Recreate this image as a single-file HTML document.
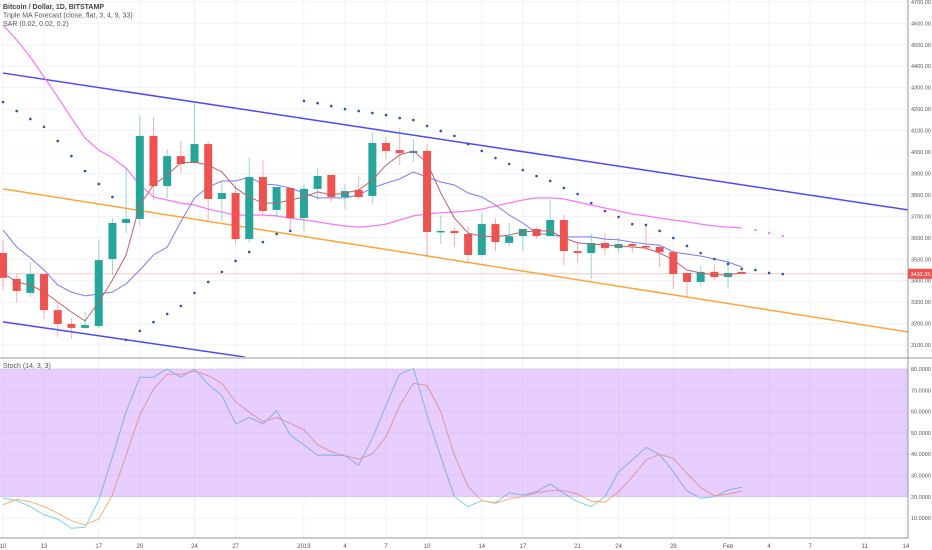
<!DOCTYPE html>
<html><head><meta charset="utf-8">
<style>
html,body{margin:0;padding:0;background:#fff;}
svg{display:block;font-family:"Liberation Sans",sans-serif;}
</style></head>
<body>
<svg id="chart" width="932" height="550" viewBox="0 0 932 550">
<defs>
<clipPath id="pc"><rect x="0" y="0" width="908" height="357"/></clipPath>
<clipPath id="sc"><rect x="0" y="359" width="908" height="179"/></clipPath>
</defs>
<g id="grid"></g>
<g id="price" clip-path="url(#pc)"></g>
<g id="stoch" clip-path="url(#sc)"></g>
<g id="axes"></g>
<text x="3" y="9" font-size="7" fill="#444" font-weight="bold">Bitcoin / Dollar, 1D, BITSTAMP</text>
<text x="3" y="17.5" font-size="7" fill="#555">Triple MA Forecast (close, flat, 3, 4, 9, 33)</text>
<text x="3" y="26" font-size="7" fill="#555">SAR (0.02, 0.02, 0.2)</text>
<text x="3" y="368" font-size="7" fill="#555">Stoch (14, 3, 3)</text>
</svg>
<script>
const opens=[3529,3408,3343,3431,3263,3198,3180,3189,3501,3669,3688,4075,3841,3981,3949,4037,3781,3809,3594,3883,3730,3832,3692,3828,3893,3790,3823,3795,4042,4009,3995,4005,3627,3632,3618,3520,3664,3576,3608,3641,3608,3683,3538,3529,3576,3552,3571,3562,3557,3534,3436,3394,3441,3417,3441];
const highs=[3590,3431,3487,3431,3296,3226,3254,3590,3692,3925,4172,4163,4014,4051,4228,4051,3860,3841,3972,3963,3837,3832,3851,3921,3893,3851,3888,4093,4070,4112,4061,4037,3706,3650,3655,3716,3692,3669,3641,3650,3776,3706,3576,3618,3622,3599,3580,3664,3566,3543,3441,3469,3478,3501,3445];
const lows=[3357,3296,3324,3221,3138,3128,3175,3180,3426,3622,3660,3776,3786,3902,3944,3678,3678,3571,3576,3706,3697,3632,3632,3776,3767,3734,3781,3758,3967,3939,3953,3510,3571,3557,3482,3510,3538,3560,3538,3595,3608,3473,3487,3408,3520,3529,3530,3538,3464,3361,3324,3375,3403,3366,3430];
const closes=[3413,3352,3431,3263,3198,3180,3193,3496,3669,3688,4075,3841,3981,3944,4037,3781,3809,3594,3883,3725,3837,3692,3828,3888,3790,3818,3790,4042,4005,3995,4005,3627,3632,3622,3520,3664,3580,3608,3641,3608,3683,3538,3529,3576,3552,3571,3562,3557,3534,3431,3394,3441,3417,3436,3432];
const sar=[4233,4191,4154,4117,4051,3981,3911,3851,3790,3124,3166,3207,3245,3282,3343,3394,3441,3492,3534,3580,3618,3632,4238,4228,4214,4200,4191,4182,4172,4158,4149,4121,4098,4075,4037,4005,3972,3944,3916,3888,3865,3832,3804,3762,3725,3697,3664,3660,3632,3599,3562,3529,3501,3478,3455,3450,3436,3431];
const maSlow=[4592,4522,4443,4350,4256,4159,4065,4009,3972,3925,3846,3790,3776,3762,3753,3734,3720,3706,3706,3706,3702,3692,3683,3674,3664,3655,3650,3655,3664,3683,3702,3711,3716,3720,3725,3734,3748,3762,3776,3786,3786,3781,3767,3753,3739,3725,3711,3702,3692,3683,3674,3664,3655,3650,3646];
const maSlowForecast=[3636,3622,3608];
const maMid=[3636,3557,3506,3450,3380,3347,3329,3338,3347,3385,3450,3520,3557,3674,3786,3837,3865,3865,3883,3851,3846,3832,3809,3786,3786,3786,3800,3832,3855,3874,3907,3883,3860,3846,3809,3790,3753,3706,3669,3622,3613,3604,3604,3604,3594,3590,3580,3571,3566,3534,3524,3515,3501,3487,3464];
const maFast=[3436,3394,3380,3347,3301,3254,3212,3301,3403,3520,3753,3846,3893,3949,3953,3939,3907,3832,3790,3762,3762,3776,3790,3814,3800,3809,3823,3869,3939,3986,4005,3949,3809,3692,3622,3608,3604,3613,3627,3632,3632,3599,3576,3571,3566,3562,3557,3552,3529,3497,3450,3436,3427,3427,3436];
const stochK=[19.4,18.2,15.4,11.5,9.6,5.2,5.7,18.5,38.8,60,76.1,76.1,80,76.1,80,72.8,67.5,54.2,57.3,54.2,60.4,49,44.3,39.6,39.6,39.3,34.9,47.5,63.1,77.6,80.3,58.4,38.8,20,15.4,18.2,17.2,21.9,20.8,22.4,26,21.6,17.7,15.4,20,31.8,37.3,43.2,39.9,31.8,22.7,19.3,20,23.2,24.5];
const stochD=[16.2,18.8,17.7,15.4,12.3,8.8,6.8,9.6,20.8,39.6,58.4,70.6,77.5,77.5,79,76.9,73.3,64.6,59.7,55.3,57.3,54.5,51.4,44.3,41.2,39.3,37.7,40.1,48.2,62.8,73.3,72.2,60,39.6,24.8,18.2,16.9,19,20,21.9,22.9,22.9,21.3,18,17.4,22.4,29.4,37.3,39.9,38.1,31,24.3,20.5,21.2,22.7];
const priceTicks=[4700,4600,4500,4400,4300,4200,4100,4000,3900,3800,3700,3600,3500,3400,3300,3200,3100];
const stochTicks=[80,70,60,50,40,30,20,10];
const dateIdx=[0,3,7,10,14,17,22,25,28,31,35,38,42,45,49,53,56,59,63,66];
const dateLabels=["10","13","17","20","24","27","2019","4","7","10","14","17","21","24","28","Feb","4","7","11","14"];
const upperLine=[[0,4368],[66.15,3730]];
const lowerLine=[[0,3208],[17.7,3044]];
const orangeLine=[[0,3828],[66.15,3161]];
const lastPrice=3432.35;

const NS="http://www.w3.org/2000/svg";
const X=i=>3+i*13.68;
const Y=p=>152+(4000-p)*0.2145;
const SY=v=>369+(80-v)*2.13;
function mk(parent,tag,attrs){const e=document.createElementNS(NS,tag);for(const k in attrs)e.setAttribute(k,attrs[k]);parent.appendChild(e);return e;}
const grid=document.getElementById('grid'),pg=document.getElementById('price'),sg=document.getElementById('stoch'),ax=document.getElementById('axes');

priceTicks.forEach(p=>{const l=mk(grid,'line',{x1:0,x2:908,y1:Y(p),y2:Y(p),stroke:'#f1f3f7','stroke-width':1});

});
stochTicks.forEach(v=>{const l=mk(grid,'line',{x1:0,x2:908,y1:SY(v),y2:SY(v),stroke:'#f1f3f7','stroke-width':1});

});
dateIdx.forEach(i=>{const l=mk(grid,'line',{x1:X(i),x2:X(i),y1:0,y2:538,stroke:'#f1f3f7','stroke-width':1});

});

const pl=mk(pg,'line',{x1:0,x2:908,y1:Y(lastPrice),y2:Y(lastPrice),stroke:'#f7c9c8','stroke-width':1});



function tl(a,col,name){const x1=X(a[0][0]),x2=X(a[1][0]);const l=mk(pg,'line',{x1:x1,y1:Y(a[0][1]),x2:x2,y2:Y(a[1][1]),stroke:col,'stroke-width':1.5});

}
tl(upperLine,'#4a4aff','upper-trendline');
tl(lowerLine,'#4a4aff','lower-trendline');
tl(orangeLine,'#ffa53a','orange-trendline');

function poly(parent,vals,fy,col,w,name,off){const pts=vals.map((v,i)=>X(i+(off||0)).toFixed(1)+','+fy(v).toFixed(1)).join(' ');
const p=mk(parent,'polyline',{points:pts,fill:'none',stroke:col,'stroke-width':w});

return p;}
poly(pg,maSlow,Y,'#f777f7',1.2,'ma-slow-line');
maSlowForecast.forEach((v,i)=>{const r=mk(pg,'rect',{x:X(55+i)-1,y:Y(v)-1,width:2,height:2,fill:'#f777f7'});

});
poly(pg,maMid,Y,'#7b7bf5',1,'ma-mid-line');

opens.forEach((o,i)=>{const c=closes[i],up=c>=o,col=up?'#26a69a':'#ef5350',x=X(i);
const w=mk(pg,'line',{x1:x,x2:x,y1:Y(highs[i]),y2:Y(lows[i]),stroke:col,'stroke-width':1,opacity:0.45});


const t=Y(Math.max(o,c)),b=Y(Math.min(o,c));
const r=mk(pg,'rect',{x:x-4,y:t,width:8,height:Math.max(1.5,b-t),fill:col});

});
poly(pg,maFast,Y,'#c0606a',1,'ma-fast-line');

sar.forEach((v,i)=>{const d=mk(pg,'circle',{cx:X(i),cy:Y(v),r:1.3,fill:'#3050b8'});

});

poly(sg,stochK,SY,'#78d3e6',1,'stoch-k-line');
poly(sg,stochD,SY,'#f9b070',1,'stoch-d-line');
const band=mk(sg,'rect',{x:0,y:SY(80),width:908,height:SY(20)-SY(80),fill:'rgba(170,80,255,0.28)'});


[80,20].forEach(v=>{const l=mk(sg,'line',{x1:0,x2:908,y1:SY(v),y2:SY(v),stroke:'#c8c8d0','stroke-width':1,'stroke-dasharray':'1,1'});

});

[[908,0,908,538],[0,358,932,358],[0,538,908,538]].forEach(a=>{const l=mk(ax,'line',{x1:a[0],y1:a[1],x2:a[2],y2:a[3],stroke:'#9a9a9a','stroke-width':1});

});
priceTicks.forEach(p=>{const t=mk(ax,'text',{x:911,y:Y(p)+2,'font-size':5.5,fill:'#555'});t.textContent=p.toFixed(2);

});
stochTicks.forEach(v=>{const t=mk(ax,'text',{x:911,y:SY(v)+2,'font-size':5.5,fill:'#555'});t.textContent=v.toFixed(4);

});
dateIdx.forEach((i,k)=>{const t=mk(ax,'text',{x:X(i),y:548,'font-size':6,fill:'#555','text-anchor':'middle'});t.textContent=dateLabels[k];

});
const tag=mk(ax,'rect',{x:908,y:Y(lastPrice)-5,width:24,height:10,fill:'#ef5350'});


const tt=mk(ax,'text',{x:910.5,y:Y(lastPrice)+2,'font-size':5.5,fill:'#fff'});tt.textContent=lastPrice.toFixed(2);


</script>
</body></html>
